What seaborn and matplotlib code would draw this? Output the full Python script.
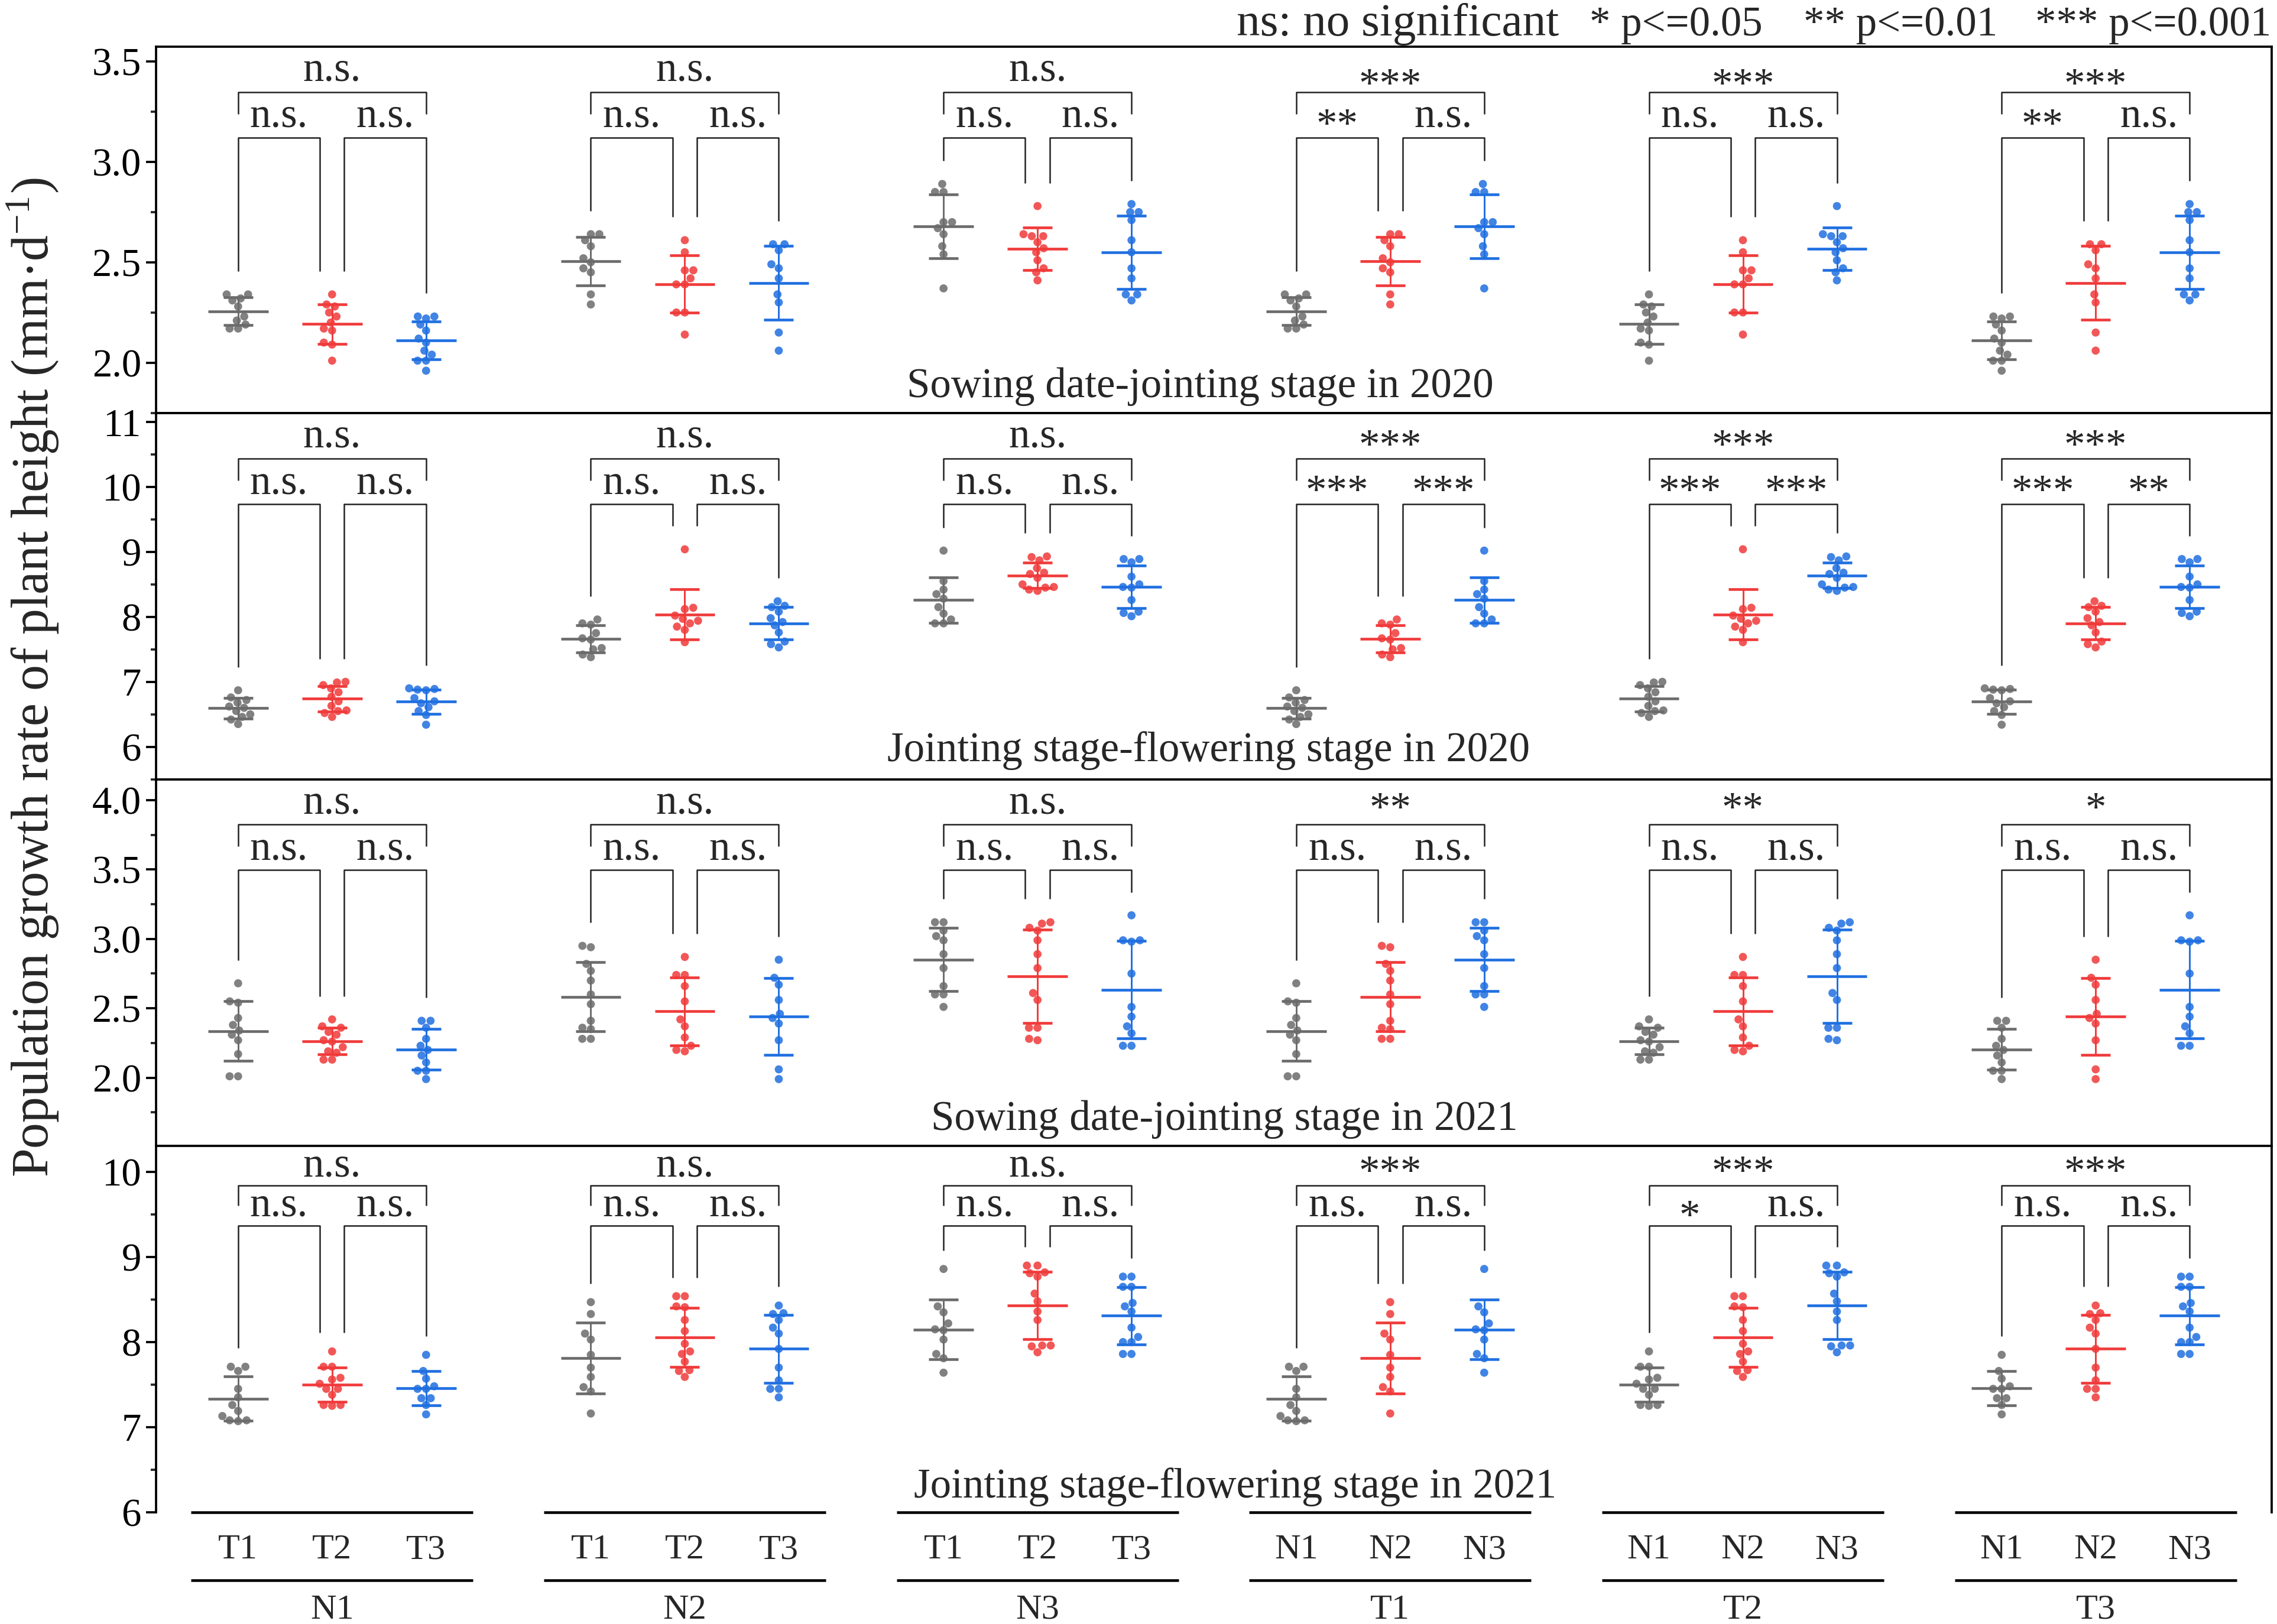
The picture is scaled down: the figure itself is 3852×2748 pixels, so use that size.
import numpy as np
import pandas as pd
import matplotlib
matplotlib.use("Agg")
import matplotlib.pyplot as plt
from matplotlib.ticker import MultipleLocator, FormatStrFormatter
import seaborn as sns

sns.set_style("ticks")
plt.rcParams["font.family"] = ["Liberation Serif", "DejaVu Serif"]
plt.rcParams["mathtext.fontset"] = "stix"

# ---------------- data ----------------
# Panel 1: Sowing date-jointing stage in 2020
sj20_N1T1 = [2.34, 2.34, 2.32, 2.31, 2.28, 2.23, 2.21, 2.19, 2.17, 2.17]
sj20_N1T2 = [2.34, 2.29, 2.28, 2.25, 2.23, 2.20, 2.17, 2.16, 2.10, 2.09, 2.01]
sj20_N1T3 = [2.23, 2.23, 2.22, 2.19, 2.16, 2.12, 2.10, 2.06, 2.04, 2.01, 2.01, 1.96]
sj20_N2T1 = [2.64, 2.64, 2.61, 2.58, 2.52, 2.50, 2.47, 2.45, 2.34, 2.29]
sj20_N2T2 = [2.61, 2.55, 2.46, 2.46, 2.42, 2.39, 2.39, 2.25, 2.25, 2.14]
sj20_N2T3 = [2.59, 2.59, 2.56, 2.49, 2.47, 2.42, 2.34, 2.30, 2.15, 2.06]
sj20_N3T1 = [2.89, 2.85, 2.85, 2.70, 2.70, 2.67, 2.64, 2.58, 2.54, 2.37]
sj20_N3T2 = [2.78, 2.64, 2.63, 2.63, 2.60, 2.57, 2.55, 2.51, 2.47, 2.45, 2.41]
sj20_N3T3 = [2.79, 2.75, 2.75, 2.71, 2.61, 2.55, 2.47, 2.42, 2.34, 2.34, 2.31]

# Panel 2: Jointing stage-flowering stage in 2020
jf20_N1T1 = [6.87, 6.76, 6.72, 6.68, 6.62, 6.60, 6.55, 6.50, 6.46, 6.42, 6.35]
jf20_N1T2 = [7.00, 6.99, 6.95, 6.90, 6.84, 6.77, 6.70, 6.63, 6.56, 6.55, 6.52, 6.46]
jf20_N1T3 = [6.90, 6.88, 6.89, 6.87, 6.75, 6.70, 6.67, 6.61, 6.55, 6.49, 6.34]
jf20_N2T1 = [7.96, 7.90, 7.88, 7.75, 7.67, 7.65, 7.52, 7.50, 7.42, 7.38]
jf20_N2T2 = [9.04, 8.14, 8.12, 8.02, 7.97, 7.94, 7.90, 7.85, 7.80, 7.61]
jf20_N2T3 = [8.24, 8.17, 8.15, 8.08, 7.98, 7.92, 7.87, 7.76, 7.62, 7.58, 7.53]
jf20_N3T1 = [9.02, 8.55, 8.42, 8.35, 8.28, 8.15, 8.05, 7.96, 7.90, 7.90]
jf20_N3T2 = [8.93, 8.92, 8.87, 8.75, 8.68, 8.66, 8.60, 8.50, 8.46, 8.45, 8.42, 8.40]
jf20_N3T3 = [8.89, 8.89, 8.84, 8.62, 8.50, 8.46, 8.45, 8.26, 8.08, 8.06, 8.01]

# Panel 3: Sowing date-jointing stage in 2021
sj21_N1T1 = [2.68, 2.55, 2.54, 2.43, 2.38, 2.34, 2.31, 2.27, 2.17, 2.01, 2.01]
sj21_N1T2 = [2.42, 2.37, 2.36, 2.33, 2.31, 2.27, 2.26, 2.22, 2.19, 2.18, 2.13, 2.13]
sj21_N1T3 = [2.41, 2.41, 2.36, 2.28, 2.23, 2.20, 2.16, 2.11, 2.05, 2.05, 1.99]
sj21_N2T1 = [2.95, 2.94, 2.82, 2.77, 2.70, 2.60, 2.53, 2.41, 2.36, 2.35, 2.28, 2.28]
sj21_N2T2 = [2.87, 2.74, 2.74, 2.66, 2.55, 2.42, 2.37, 2.29, 2.23, 2.19, 2.20]
sj21_N2T3 = [2.85, 2.72, 2.67, 2.56, 2.46, 2.43, 2.39, 2.27, 2.06, 1.99]
sj21_N3T1 = [3.12, 3.12, 3.06, 3.02, 2.99, 2.89, 2.79, 2.66, 2.60, 2.60, 2.51]
sj21_N3T2 = [3.12, 3.11, 3.08, 3.06, 2.99, 2.89, 2.79, 2.61, 2.56, 2.36, 2.36, 2.28, 2.27]
sj21_N3T3 = [3.17, 2.99, 2.99, 2.98, 2.75, 2.51, 2.44, 2.37, 2.32, 2.23, 2.23]

# Panel 4: Jointing stage-flowering stage in 2021
jf21_N1T1 = [7.71, 7.71, 7.66, 7.45, 7.35, 7.26, 7.19, 7.13, 7.08, 7.08, 7.07]
jf21_N1T2 = [7.89, 7.71, 7.71, 7.58, 7.56, 7.51, 7.45, 7.45, 7.38, 7.26, 7.26, 7.25]
jf21_N1T3 = [7.85, 7.66, 7.57, 7.48, 7.45, 7.45, 7.34, 7.34, 7.26, 7.15]
jf21_N2T1 = [8.47, 8.33, 8.10, 8.03, 7.85, 7.70, 7.59, 7.47, 7.42, 7.16]
jf21_N2T2 = [8.54, 8.54, 8.42, 8.41, 8.26, 8.13, 7.98, 7.89, 7.86, 7.77, 7.67, 7.66, 7.59]
jf21_N2T3 = [8.43, 8.34, 8.33, 8.26, 8.17, 8.10, 7.92, 7.70, 7.55, 7.45, 7.45, 7.35]
jf21_N3T1 = [8.86, 8.42, 8.35, 8.22, 8.15, 8.14, 8.03, 7.86, 7.81, 7.64]
jf21_N3T2 = [8.90, 8.90, 8.82, 8.81, 8.77, 8.57, 8.48, 8.36, 8.26, 7.96, 7.96, 7.95, 7.88]
jf21_N3T3 = [8.77, 8.77, 8.65, 8.65, 8.46, 8.42, 8.36, 8.17, 8.06, 8.00, 8.00, 7.86, 7.86]

panel_titles = ["Sowing date-jointing stage in 2020",
                "Jointing stage-flowering stage in 2020",
                "Sowing date-jointing stage in 2021",
                "Jointing stage-flowering stage in 2021"]

# significance labels per group: (overall, first pair, second pair)
sig_sj20 = [("n.s.", "n.s.", "n.s."), ("n.s.", "n.s.", "n.s."), ("n.s.", "n.s.", "n.s."),
            ("***", "**", "n.s."), ("***", "n.s.", "n.s."), ("***", "**", "n.s.")]
sig_jf20 = [("n.s.", "n.s.", "n.s."), ("n.s.", "n.s.", "n.s."), ("n.s.", "n.s.", "n.s."),
            ("***", "***", "***"), ("***", "***", "***"), ("***", "***", "**")]
sig_sj21 = [("n.s.", "n.s.", "n.s."), ("n.s.", "n.s.", "n.s."), ("n.s.", "n.s.", "n.s."),
            ("**", "n.s.", "n.s."), ("**", "n.s.", "n.s."), ("*", "n.s.", "n.s.")]
sig_jf21 = [("n.s.", "n.s.", "n.s."), ("n.s.", "n.s.", "n.s."), ("n.s.", "n.s.", "n.s."),
            ("***", "n.s.", "n.s."), ("***", "*", "n.s."), ("***", "n.s.", "n.s.")]

n_levels = ["N1", "N2", "N3"]
t_levels = ["T1", "T2", "T3"]
group_labels = ["N1", "N2", "N3", "T1", "T2", "T3"]
tick_labels = [t_levels, t_levels, t_levels, n_levels, n_levels, n_levels]

# ---------------- assemble ----------------
panels = [
    [[sj20_N1T1, sj20_N1T2, sj20_N1T3], [sj20_N2T1, sj20_N2T2, sj20_N2T3], [sj20_N3T1, sj20_N3T2, sj20_N3T3]],
    [[jf20_N1T1, jf20_N1T2, jf20_N1T3], [jf20_N2T1, jf20_N2T2, jf20_N2T3], [jf20_N3T1, jf20_N3T2, jf20_N3T3]],
    [[sj21_N1T1, sj21_N1T2, sj21_N1T3], [sj21_N2T1, sj21_N2T2, sj21_N2T3], [sj21_N3T1, sj21_N3T2, sj21_N3T3]],
    [[jf21_N1T1, jf21_N1T2, jf21_N1T3], [jf21_N2T1, jf21_N2T2, jf21_N2T3], [jf21_N3T1, jf21_N3T2, jf21_N3T3]],
]
sigs = [sig_sj20, sig_jf20, sig_sj21, sig_jf21]

colors = {"L1": "#6B6B6B", "L2": "#F03A3A", "L3": "#1F6FE0"}
levels = ["L1", "L2", "L3"]
GSTEP = 3.753

ylims = [(1.75, 3.575), (5.5, 11.14), (1.51, 4.15), (6.0, 10.31)]
ymaj = [0.5, 1.0, 0.5, 1.0]
ymin = [0.25, 0.5, 0.25, 0.5]
yfmt = ["%.1f", "%d", "%.1f", "%d"]
# bracket geometry in axes fraction
geo = [dict(top_h=0.875, top_leg=0.815, low_h=0.751, top_txt=0.906, low_txt=0.781, gap=0.063, ast_top=0.044, ast_low=0.028),
       dict(top_h=0.875, top_leg=0.815, low_h=0.751, top_txt=0.906, low_txt=0.779, gap=0.063, ast_top=0.030, ast_low=0.026),
       dict(top_h=0.877, top_leg=0.817, low_h=0.753, top_txt=0.906, low_txt=0.781, gap=0.063, ast_top=0.020, ast_low=0.026),
       dict(top_h=0.892, top_leg=0.837, low_h=0.781, top_txt=0.917, low_txt=0.808, gap=0.051, ast_top=0.022, ast_low=0.034)]
title_pos = [(0.4935, 0.043), (0.4976, 0.050), (0.505, 0.0435), (0.51, 0.039)]

fig = plt.figure(figsize=(12.84, 9.16), dpi=300)
L, R = 0.0685, 0.9977
B, T = 0.0689, 0.9714
H = (T - B) / 4
axes = [fig.add_axes([L, T - (i + 1) * H, R - L, H]) for i in range(4)]

for p, ax in enumerate(axes):
    data = panels[p]
    rows = []
    cells = []  # (x, values, level)
    for g in range(6):
        for j in range(3):
            x = g * GSTEP + j
            vals = data[g][j] if g < 3 else data[j][g - 3]
            cells.append((x, vals, levels[j]))
            for v in vals:
                rows.append({"x": x, "value": v, "level": levels[j]})
    df = pd.DataFrame(rows)
    sns.swarmplot(data=df, x="x", y="value", hue="level", hue_order=levels,
                  palette=colors, native_scale=True, size=3.3, alpha=0.85,
                  linewidth=0, legend=False, ax=ax, zorder=2)
    for x, vals, lev in cells:
        m = np.mean(vals)
        s = np.std(vals, ddof=1)
        c = colors[lev]
        ax.hlines(m, x - 0.32, x + 0.32, color=c, lw=1.1, zorder=4)
        ax.errorbar(x, m, yerr=s, fmt="none", ecolor=c, elinewidth=0.7,
                    capsize=6, capthick=1.1, zorder=4)

    y0, y1 = ylims[p]
    ax.set_ylim(y0, y1)
    ax.set_xlim(-0.874, 5 * GSTEP + 2 + 0.874)
    rng = y1 - y0
    gm = geo[p]
    fy = lambda f: y0 + f * rng
    for g in range(6):
        xs = [g * GSTEP + j for j in range(3)]
        vals = [data[g][j] if g < 3 else data[j][g - 3] for j in range(3)]
        tops = [max(v) + gm["gap"] * rng for v in vals]
        top_s, left_s, right_s = sigs[p][g]
        kw = dict(color="#222222", lw=0.6, zorder=3, solid_capstyle="butt")
        # overall bracket
        ax.plot([xs[0], xs[0], xs[2], xs[2]],
                [fy(gm["top_leg"]), fy(gm["top_h"]), fy(gm["top_h"]), fy(gm["top_leg"])], **kw)
        # pair brackets
        ax.plot([xs[0], xs[0], xs[1] - 0.13, xs[1] - 0.13],
                [tops[0], fy(gm["low_h"]), fy(gm["low_h"]), tops[1]], **kw)
        ax.plot([xs[1] + 0.13, xs[1] + 0.13, xs[2], xs[2]],
                [tops[1], fy(gm["low_h"]), fy(gm["low_h"]), tops[2]], **kw)
        ty = gm["top_txt"] - (gm["ast_top"] if "*" in top_s else 0)
        ax.text(xs[1], fy(ty), top_s, ha="center", va="baseline", fontsize=17)
        ly = gm["low_txt"] - (gm["ast_low"] if "*" in left_s else 0)
        ax.text((xs[0] + xs[1] - 0.13) / 2, fy(ly), left_s, ha="center",
                va="baseline", fontsize=17)
        ry = gm["low_txt"] - (gm["ast_low"] if "*" in right_s else 0)
        ax.text((xs[1] + 0.13 + xs[2]) / 2, fy(ry), right_s, ha="center",
                va="baseline", fontsize=17)

    ax.text(title_pos[p][0], title_pos[p][1], panel_titles[p], transform=ax.transAxes,
            ha="center", va="baseline", fontsize=17)

    ax.yaxis.set_major_locator(MultipleLocator(ymaj[p]))
    ax.yaxis.set_minor_locator(MultipleLocator(ymin[p]))
    ax.yaxis.set_major_formatter(FormatStrFormatter(yfmt[p]))
    ax.tick_params(axis="y", which="major", direction="out", length=4, width=0.9,
                   labelsize=16, pad=2, colors="black")
    ax.tick_params(axis="y", which="minor", direction="out", length=2.2, width=0.9)
    ax.tick_params(axis="x", bottom=False, labelbottom=False)
    ax.set_xlabel("")
    ax.set_ylabel("")
    for sp in ax.spines.values():
        sp.set_linewidth(0.9)
        sp.set_color("black")
    if p == 3:
        ax.spines["bottom"].set_visible(False)

# bottom two-level category labels
axb = axes[3]
trans = axb.get_xaxis_transform()
for g in range(6):
    xs = [g * GSTEP + j for j in range(3)]
    for yline in (0.0, -0.186):
        axb.plot([xs[0] - 0.5, xs[2] + 0.5], [yline, yline], transform=trans,
                 color="black", lw=1.1, clip_on=False, solid_capstyle="butt")
    for j in range(3):
        axb.text(xs[j], -0.104, tick_labels[g][j], transform=trans, ha="center",
                 va="center", fontsize=14.5)
    axb.text(xs[1], -0.268, group_labels[g], transform=trans, ha="center",
             va="center", fontsize=14.5)

fig.text(0.0145, 0.583, "Population growth rate of plant height (mm·d$^{\\mathregular{-1}}$)",
         rotation=90, ha="center", va="center", fontsize=21)

fig.text(0.543, 0.978, "ns: no significant", ha="left", va="baseline", fontsize=19)
fig.text(0.698, 0.978, "* p<=0.05", ha="left", va="baseline", fontsize=17)
fig.text(0.792, 0.978, "** p<=0.01", ha="left", va="baseline", fontsize=17)
fig.text(0.9975, 0.978, "*** p<=0.001", ha="right", va="baseline", fontsize=17)

fig.savefig("out.png", dpi=300)
